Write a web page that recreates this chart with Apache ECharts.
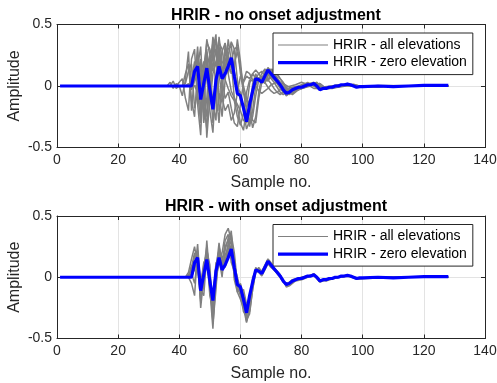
<!DOCTYPE html>
<html>
<head>
<meta charset="utf-8">
<script src="https://cdn.jsdelivr.net/npm/echarts@6/dist/echarts.min.js"></script>
<style>
html,body{margin:0;padding:0;background:#fff}
#chart{width:497px;height:383px}
</style>
</head>
<body>
<div id="chart"></div>
<script>
// [sample no., amplitude] pairs
const zeroElev = [[1,0],[44,0],[45,0.12],[46,0.16],[47,-0.11],[48,0.02],[49,0.145],[50,-0.03],[51,-0.19],[52,0.05],[53,0.16],[54,0.06],[55,0.1],[56,0.16],[57,0.23],[58,0.08],[59,-0.06],[60,-0.08],[61,-0.18],[62,-0.29],[63,-0.15],[64,-0.04],[65,0.06],[66,0.05],[67,0.03],[68,0.08],[69,0.13],[70,0.1],[71,0.07],[72,0.04],[73,0.01],[74,-0.03],[75,-0.06],[76,-0.05],[77,-0.03],[78,-0.02],[79,-0.01],[80,-0.01],[81,0],[82,0.01],[83,0.01],[84,0.02],[85,0],[86,-0.03],[87,-0.02],[88,-0.02],[89,-0.01],[90,-0.01],[91,0],[92,0],[93,0.01],[94,0.01],[95,0.015],[96,0.01],[97,0],[98,-0.01],[99,-0.005],[100,-0.005],[105,0],[110,-0.005],[115,0],[120,0.005],[125,0.005],[128,0.005]]

// no onset adjustment - a few of the elevations
const rawA = [[1,0],[36,0],[37,0.03],[38,-0.02],[39,0.02],[40,0],[41,-0.08],[42,0.05],[43,0.28],[44,-0.2],[45,0.1],[46,0.22],[47,-0.25],[48,0.05],[49,0.38],[50,0.25],[51,0.15],[52,0.3],[53,0.1],[54,-0.1],[55,-0.2],[56,-0.15],[57,-0.28],[58,-0.22],[59,-0.05],[60,0.08],[61,0.04],[62,0.12],[63,0.1],[64,0.05],[65,0],[66,-0.04],[67,-0.06],[68,-0.04],[69,-0.02],[70,0.01],[72,0.03],[74,0.02],[76,-0.01],[78,-0.02],[80,-0.01],[83,0.02],[86,-0.01],[90,0],[94,0.01],[100,-0.01],[110,0],[128,0]]
const rawB = [[1,0],[45,0],[46,-0.05],[47,0.1],[48,0.2],[49,-0.42],[50,-0.1],[51,0.3],[52,0.42],[53,-0.2],[54,-0.1],[55,0.35],[56,0.2],[57,0.1],[58,0.15],[59,0.38],[60,0.2],[61,-0.05],[62,-0.12],[63,-0.2],[64,-0.34],[65,-0.25],[66,-0.05],[67,0.08],[68,0.06],[69,0.05],[70,0.1],[71,0.15],[72,0.1],[73,0.06],[74,0.02],[75,-0.02],[76,-0.05],[77,-0.07],[78,-0.05],[79,-0.03],[80,-0.02],[82,0],[84,0.01],[86,0.02],[88,-0.02],[90,-0.02],[93,0],[97,0.015],[100,-0.01],[106,0],[128,0]]
const rawC = [[1,0],[41,0],[42,0.02],[43,0.12],[44,0.18],[45,-0.18],[46,-0.05],[47,0.2],[48,-0.3],[49,-0.1],[50,0.25],[51,0.12],[52,0.2],[53,0.32],[54,0.15],[55,0.05],[56,-0.02],[57,-0.08],[58,-0.12],[59,-0.25],[60,-0.32],[61,-0.22],[62,-0.05],[63,0.05],[64,0.04],[65,0.06],[66,0.1],[67,0.12],[68,0.08],[69,0.05],[70,0.02],[71,-0.02],[72,-0.05],[73,-0.07],[74,-0.05],[75,-0.03],[77,-0.01],[79,0],[81,0.02],[83,0.02],[85,-0.02],[88,-0.01],[92,0.01],[96,0],[100,-0.005],[110,0],[128,0]]
const rawD = [[1,0],[43,0],[44,0.05],[45,0.2],[46,-0.05],[47,-0.3],[48,0.1],[49,0.3],[50,-0.2],[51,-0.38],[52,0.05],[53,0.4],[54,0.2],[55,0.15],[56,0.25],[57,0.36],[58,0.3],[59,0.05],[60,-0.12],[61,-0.15],[62,-0.25],[63,-0.33],[64,-0.2],[65,0],[66,0.07],[67,0.05],[68,0.04],[69,0.1],[70,0.14],[71,0.1],[72,0.06],[73,0.03],[74,-0.01],[75,-0.04],[76,-0.07],[77,-0.05],[78,-0.03],[80,-0.02],[82,0],[85,0.03],[87,-0.02],[90,-0.015],[95,0.01],[99,-0.01],[105,0],[128,0]]
const rawE = [[1,0],[43,0],[44,0.03],[45,0.15],[46,0.25],[47,-0.2],[48,-0.05],[49,0.22],[50,0.05],[51,-0.3],[52,-0.05],[53,0.28],[54,0.1],[55,0.2],[56,0.3],[57,0.33],[58,0.12],[59,-0.02],[60,-0.05],[61,-0.2],[62,-0.35],[63,-0.28],[64,-0.08],[65,0.08],[66,0.06],[67,0.02],[68,0.1],[69,0.15],[70,0.12],[71,0.08],[72,0.05],[73,0],[74,-0.04],[75,-0.08],[76,-0.06],[77,-0.04],[79,-0.02],[81,0],[84,0.03],[86,-0.02],[89,-0.02],[95,0.02],[98,-0.01],[105,0.005],[128,0]]
const rawF = [[1,0],[37,0],[38,0.04],[39,-0.02],[40,0],[41,0],[42,0.1],[43,0.18],[44,-0.12],[45,-0.25],[46,0.15],[47,0.32],[48,-0.15],[49,-0.35],[50,0.1],[51,0.4],[52,0.25],[53,0.15],[54,0.28],[55,0.35],[56,0.1],[57,-0.04],[58,-0.1],[59,-0.18],[60,-0.3],[61,-0.36],[62,-0.18],[63,0.02],[64,0.1],[65,0.06],[66,0.05],[67,0.1],[68,0.14],[69,0.1],[70,0.06],[71,0.03],[72,-0.01],[73,-0.05],[74,-0.07],[75,-0.05],[76,-0.03],[78,-0.01],[80,0],[82,0.03],[84,0],[86,-0.02],[90,-0.01],[94,0.01],[100,-0.01],[110,0],[128,0]]
const rawG = [[1,0],[46,0],[47,0.08],[48,0.15],[49,0.05],[50,-0.15],[51,0.1],[52,0.2],[53,-0.05],[54,-0.25],[55,0.05],[56,0.25],[57,0.15],[58,0.18],[59,0.28],[60,0.15],[61,0],[62,-0.1],[63,-0.15],[64,-0.28],[65,-0.3],[66,-0.1],[67,0.03],[68,0.05],[69,0.04],[70,0.08],[71,0.12],[72,0.09],[73,0.06],[74,0.03],[75,-0.01],[76,-0.04],[77,-0.06],[78,-0.04],[80,-0.02],[83,0],[86,0.02],[88,-0.02],[92,-0.01],[97,0.01],[101,-0.01],[110,0],[128,0]]
const rawH = [[1,0],[39,0],[40,0.03],[41,0.06],[42,-0.1],[43,-0.2],[44,0.22],[45,0.3],[46,-0.15],[47,-0.4],[48,0.15],[49,0.35],[50,0.3],[51,0.2],[52,0.38],[53,0.25],[54,0.05],[55,-0.1],[56,-0.05],[57,-0.18],[58,-0.3],[59,-0.33],[60,-0.15],[61,0.03],[62,0.08],[63,0.06],[64,0.1],[65,0.13],[66,0.1],[67,0.06],[68,0.03],[69,-0.01],[70,-0.04],[71,-0.06],[72,-0.05],[73,-0.03],[75,-0.01],[78,0.01],[80,0.03],[82,0.01],[84,-0.02],[87,-0.02],[92,0.01],[96,0],[102,-0.01],[110,0],[128,0]]
const rawI = [[1,0],[44,0],[45,0.04],[46,0.1],[47,0.22],[48,-0.1],[49,-0.25],[50,0.2],[51,0.35],[52,-0.05],[53,-0.3],[54,0.1],[55,0.3],[56,0.1],[57,0.2],[58,0.3],[59,0.32],[60,0.1],[61,-0.05],[62,-0.2],[63,-0.3],[64,-0.25],[65,-0.08],[66,0.05],[67,0.04],[68,0.02],[69,0.08],[70,0.12],[71,0.1],[72,0.07],[73,0.03],[74,0],[75,-0.03],[76,-0.06],[77,-0.05],[78,-0.04],[80,-0.02],[83,0.01],[85,0.02],[87,-0.02],[91,-0.01],[96,0.01],[100,-0.01],[110,0],[128,0]]
const rawJ = [[1,0],[42,0],[43,0.02],[44,-0.03],[45,0.05],[46,0.32],[47,-0.05],[48,-0.22],[49,0.28],[50,0.15],[51,-0.15],[52,-0.28],[53,0.35],[54,0.3],[55,0.12],[56,0.38],[57,0.2],[58,-0.1],[59,-0.15],[60,-0.2],[61,-0.28],[62,-0.3],[63,-0.2],[64,0.02],[65,0.1],[66,0.04],[67,0.06],[68,0.12],[69,0.1],[70,0.07],[71,0.05],[72,0.02],[73,-0.02],[74,-0.05],[75,-0.05],[76,-0.04],[78,-0.02],[80,0],[83,0.02],[85,0.01],[87,-0.02],[90,-0.01],[95,0.01],[100,0],[128,0]]

// with onset adjustment
const adjA = [[1,0],[42,0],[43,0.04],[44,0.15],[45,0.25],[46,0.1],[47,-0.2],[48,0.1],[49,0.2],[50,-0.1],[51,-0.42],[52,0],[53,0.12],[54,0.2],[55,0.35],[56,0.4],[57,0.3],[58,0.1],[59,0],[60,-0.1],[61,-0.2],[62,-0.35],[63,-0.3],[64,-0.1],[65,0.04],[66,0.07],[67,0.05],[68,0.1],[69,0.15],[70,0.12],[71,0.08],[72,0.05],[73,0.02],[74,-0.02],[75,-0.08],[76,-0.07],[77,-0.05],[78,-0.03],[80,-0.02],[82,0],[84,0.03],[86,-0.02],[88,-0.03],[90,-0.015],[95,0.02],[98,-0.01],[105,0],[128,0]]
const adjB = [[1,0],[43,0],[44,-0.05],[45,-0.15],[46,0.22],[47,-0.25],[48,0],[49,0.1],[50,0.05],[51,-0.3],[52,0.1],[53,0.22],[54,0.05],[55,0.18],[56,0.25],[57,0.38],[58,0.05],[59,-0.1],[60,-0.05],[61,-0.15],[62,-0.25],[63,-0.2],[64,-0.06],[65,0.08],[66,0.04],[67,0.01],[68,0.06],[69,0.11],[70,0.08],[71,0.06],[72,0.03],[73,0],[74,-0.04],[75,-0.05],[76,-0.04],[77,-0.02],[79,-0.005],[82,0.01],[84,0.015],[86,-0.04],[88,-0.02],[92,0],[96,0.01],[99,-0.01],[110,0],[128,0]]
const adjC = [[1,0],[43,0],[44,0.1],[45,0.05],[46,0.27],[47,-0.1],[48,-0.15],[49,0.18],[50,-0.15],[51,-0.25],[52,-0.05],[53,0.15],[54,0],[55,0.25],[56,0.3],[57,0.2],[58,0.15],[59,-0.12],[60,-0.18],[61,-0.25],[62,-0.37],[63,-0.26],[64,0],[65,0.05],[66,0.06],[67,0.04],[68,0.07],[69,0.12],[70,0.1],[71,0.07],[72,0.05],[73,0.02],[74,-0.03],[75,-0.07],[76,-0.05],[77,-0.04],[78,-0.02],[80,0],[84,0.02],[86,-0.03],[89,-0.01],[95,0.01],[98,-0.015],[110,0],[128,0]]
const adjD = [[1,0],[44,0],[45,0.18],[46,0.12],[47,-0.05],[48,0.08],[49,0.25],[50,0],[51,-0.2],[52,0.12],[53,0.1],[54,0.12],[55,0.08],[56,0.2],[57,0.26],[58,0],[59,-0.03],[60,-0.12],[61,-0.1],[62,-0.22],[63,-0.28],[64,-0.1],[65,0.06],[66,0.05],[67,0.03],[68,0.08],[69,0.14],[70,0.09],[71,0.06],[72,0.04],[73,0.01],[74,-0.03],[75,-0.06],[76,-0.06],[77,-0.03],[78,-0.02],[80,-0.01],[84,0.025],[86,-0.025],[90,-0.01],[95,0.015],[98,-0.01],[110,0],[128,0]]
const adjE = [[1,0],[42,0],[43,0.02],[44,0.05],[45,0.1],[46,0.18],[47,-0.18],[48,0.05],[49,0.12],[50,-0.05],[51,-0.35],[52,-0.02],[53,0.2],[54,0.1],[55,0.3],[56,0.35],[57,0.12],[58,0.05],[59,-0.08],[60,-0.15],[61,-0.28],[62,-0.32],[63,-0.18],[64,-0.02],[65,0.05],[66,0.08],[67,0.04],[68,0.09],[69,0.13],[70,0.11],[71,0.07],[72,0.04],[73,0.01],[74,-0.03],[75,-0.06],[76,-0.05],[77,-0.03],[79,-0.01],[82,0.005],[84,0.02],[86,-0.03],[90,-0.01],[95,0.015],[98,-0.01],[110,0],[128,0]]
const adjF = [[1,0],[43,0],[44,0.08],[45,0.2],[46,0.05],[47,-0.12],[48,-0.05],[49,0.22],[50,0.1],[51,-0.38],[52,-0.1],[53,0.25],[54,0.15],[55,0.22],[56,0.32],[57,0.35],[58,0.2],[59,-0.05],[60,-0.12],[61,-0.22],[62,-0.3],[63,-0.22],[64,-0.04],[65,0.07],[66,0.06],[67,0.03],[68,0.09],[69,0.14],[70,0.1],[71,0.07],[72,0.04],[73,0.01],[74,-0.03],[75,-0.07],[76,-0.06],[77,-0.04],[78,-0.02],[80,-0.01],[84,0.02],[86,-0.03],[90,-0.01],[95,0.015],[98,-0.01],[110,0],[128,0]]
const adjG = [[1,0],[44,0],[45,0.08],[46,0.2],[47,-0.06],[48,0.12],[49,0.16],[50,-0.08],[51,-0.15],[52,0.08],[53,0.18],[54,0.1],[55,0.14],[56,0.22],[57,0.3],[58,0.12],[59,-0.08],[60,-0.06],[61,-0.16],[62,-0.28],[63,-0.22],[64,-0.05],[65,0.06],[66,0.05],[67,0.03],[68,0.08],[69,0.13],[70,0.1],[71,0.07],[72,0.04],[73,0.01],[74,-0.03],[75,-0.06],[76,-0.05],[77,-0.03],[78,-0.02],[80,-0.01],[84,0.02],[86,-0.03],[90,-0.01],[95,0.015],[98,-0.01],[110,0],[128,0]]
const adjH = [[1,0],[43,0],[44,0.03],[45,-0.05],[46,0.15],[47,-0.15],[48,-0.08],[49,0.3],[50,-0.02],[51,-0.28],[52,0.05],[53,0.28],[54,0.08],[55,0.12],[56,0.28],[57,0.33],[58,-0.02],[59,-0.12],[60,-0.1],[61,-0.18],[62,-0.36],[63,-0.25],[64,-0.06],[65,0.05],[66,0.04],[67,0.02],[68,0.07],[69,0.12],[70,0.1],[71,0.07],[72,0.03],[73,0],[74,-0.04],[75,-0.06],[76,-0.05],[77,-0.03],[79,-0.01],[82,0.01],[84,0.02],[86,-0.03],[90,-0.01],[95,0.015],[98,-0.01],[110,0],[128,0]]

const rawAll = [rawA, rawB, rawC, rawD, rawE, rawF, rawG, rawH, rawI, rawJ]
const adjAll = [adjA, adjB, adjC, adjD, adjE, adjF, adjG, adjH]
const titles = ['HRIR - no onset adjustment', 'HRIR - with onset adjustment']
const allName = 'HRIR - all elevations'
const zeroName = 'HRIR - zero elevation'

const font = "'Liberation Sans', Arial, Helvetica, sans-serif"
const ink = '#262626'
const grids = [
  {left: 57, top: 24.5, width: 428, height: 123},
  {left: 57, top: 216, width: 428, height: 122.5}
]

const xAxes = []
const yAxes = []
grids.forEach((g, i) => {
  xAxes.push({
    gridIndex: i, type: 'value', min: 0, max: 140, interval: 20,
    name: 'Sample no.', nameLocation: 'middle', nameGap: 27, nameMoveOverlap: false,
    nameTextStyle: {fontFamily: font, fontSize: 16, color: ink},
    axisLine: {onZero: false, lineStyle: {color: ink, width: 1}},
    axisTick: {inside: true, length: 4, lineStyle: {color: ink}},
    axisLabel: {fontFamily: font, fontSize: 14, color: ink, margin: 6},
    splitLine: {show: true, lineStyle: {color: '#e3e3e3', width: 1}}
  })
  xAxes.push({
    gridIndex: i, type: 'value', position: 'top', min: 0, max: 140, interval: 20,
    axisLine: {onZero: false, lineStyle: {color: ink, width: 1}},
    axisTick: {inside: true, length: 4, lineStyle: {color: ink}},
    axisLabel: {show: false}, splitLine: {show: false}
  })
  yAxes.push({
    gridIndex: i, type: 'value', min: -0.5, max: 0.5, interval: 0.5,
    name: 'Amplitude', nameLocation: 'middle', nameGap: 34, nameMoveOverlap: false,
    nameTextStyle: {fontFamily: font, fontSize: 16, color: ink},
    axisLine: {onZero: false, lineStyle: {color: ink, width: 1}},
    axisTick: {inside: true, length: 4, lineStyle: {color: ink}},
    axisLabel: {fontFamily: font, fontSize: 14, color: ink, margin: 5},
    splitLine: {show: true, lineStyle: {color: '#e3e3e3', width: 1}}
  })
  yAxes.push({
    gridIndex: i, type: 'value', position: 'right', min: -0.5, max: 0.5, interval: 0.5,
    axisLine: {onZero: false, lineStyle: {color: ink, width: 1}},
    axisTick: {inside: true, length: 4, lineStyle: {color: ink}},
    axisLabel: {show: false}, splitLine: {show: false}
  })
})

const series = []
;[rawAll, adjAll].forEach((set, i) => {
  set.forEach(d => {
    series.push({
      type: 'line', name: allName, data: d, xAxisIndex: i * 2, yAxisIndex: i * 2,
      symbol: 'none', color: '#808080', lineStyle: {color: '#808080', width: 1.5},
      silent: true, animation: false
    })
  })
  series.push({
    type: 'line', name: zeroName, data: zeroElev, xAxisIndex: i * 2, yAxisIndex: i * 2,
    symbol: 'none', color: '#0000ff', lineStyle: {color: '#0000ff', width: 3.2},
    z: 5, silent: true, animation: false
  })
})

const legends = grids.map(g => ({
  data: [
    {name: allName, icon: 'path://M0 0H50V1H0Z'},
    {name: zeroName, icon: 'path://M0 0H50V3.2H0Z'}
  ],
  orient: 'vertical', left: 273, top: g.top + 8.5,
  itemWidth: 50, itemHeight: 14, itemGap: 3.6,
  padding: [5, 6, 5, 5],
  backgroundColor: '#fff', borderColor: ink, borderWidth: 1,
  textStyle: {fontFamily: font, fontSize: 14, color: '#000'},
  selectedMode: false
}))

const chart = echarts.init(document.getElementById('chart'))
chart.setOption({
  animation: false,
  backgroundColor: '#fff',
  title: titles.map((t, i) => ({
    text: t, left: 271, top: grids[i].top - 22, textAlign: 'center',
    textStyle: {fontFamily: font, fontSize: 16, fontWeight: 'bold', color: '#000'}
  })),
  legend: legends,
  grid: grids.map(g => Object.assign({show: true, borderColor: ink, borderWidth: 0, backgroundColor: '#fff', outerBoundsMode: 'none', containLabel: false}, g)),
  xAxis: xAxes,
  yAxis: yAxes,
  series: series
})
</script>
</body>
</html>
